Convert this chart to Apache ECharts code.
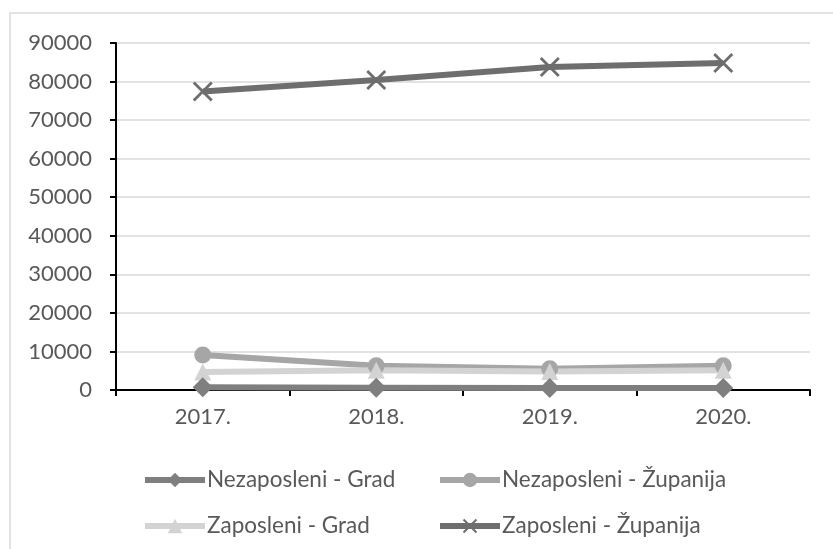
<!DOCTYPE html>
<html>
<head>
<meta charset="utf-8">
<script src="https://cdn.jsdelivr.net/npm/echarts@6/dist/echarts.min.js"></script>
<style>
  html, body { margin: 0; padding: 0; background: #fff; }
  #chart { width: 833px; height: 549px; }
</style>
</head>
<body>
<div id="chart"></div>
<script>
// kategorije i vrijednosti očitane sa slike
const years = ['2017.', '2018.', '2019.', '2020.']
const nezaposleniGrad = [700, 600, 500, 500]
const nezaposleniZupanija = [9100, 6300, 5500, 6300]
const zaposleniGrad = [4700, 5100, 4800, 5100]
const zaposleniZupanija = [77400, 80400, 83800, 84800]

const fontFamily = 'Lato, "Open Sans", sans-serif'
const textColor = '#595959'

// oznaka "X" kao popunjeni oblik
const crossPath = 'path://M0,1 L1,0 L5,4 L9,0 L10,1 L6,5 L10,9 L9,10 L5,6 L1,10 L0,9 L4,5 Z'

const makeSeries = (name, data, color, symbol, size) => ({
  name,
  type: 'line',
  data,
  symbol,
  symbolSize: size,
  showSymbol: true,
  lineStyle: { color, width: 6 },
  itemStyle: { color },
  emphasis: { disabled: true }
})

const legendBase = {
  orient: 'vertical',
  top: 462,
  itemWidth: 60,
  itemHeight: 18,
  itemGap: 20,
  lineStyle: { width: 6 },
  textStyle: { color: textColor, fontSize: 22.5, lineHeight: 26, fontFamily, padding: [0, 0, 0, -3] }
}

const chart = echarts.init(document.getElementById('chart'))

chart.setOption({
  animation: false,
  textStyle: { fontFamily },
  graphic: [{
    type: 'rect',
    shape: { x: 10, y: 13, width: 840, height: 560 },
    style: { fill: 'none', stroke: '#e3e3e3', lineWidth: 2 },
    silent: true
  }],
  grid: { left: 116, right: 23, top: 43, bottom: 159 },
  legend: [
    Object.assign({}, legendBase, { data: ['Nezaposleni - Grad', 'Zaposleni - Grad'], left: 137 }),
    Object.assign({}, legendBase, { data: ['Nezaposleni - Županija', 'Zaposleni - Županija'], left: 432 })
  ],
  xAxis: {
    type: 'category',
    data: years,
    boundaryGap: true,
    axisLine: { lineStyle: { color: '#000', width: 2 } },
    axisTick: { show: true, length: 6, lineStyle: { color: '#000', width: 2 } },
    axisLabel: { color: textColor, fontSize: 22, margin: 16 }
  },
  yAxis: {
    type: 'value',
    min: 0,
    max: 90000,
    interval: 10000,
    axisLine: { show: true, lineStyle: { color: '#000', width: 2 } },
    axisTick: { show: true, length: 6, lineStyle: { color: '#000', width: 2 } },
    axisLabel: { color: textColor, fontSize: 22, margin: 24, formatter: v => String(v) },
    splitLine: { lineStyle: { color: '#d9d9d9', width: 1.5 } }
  },
  series: [
    makeSeries('Nezaposleni - Županija', nezaposleniZupanija, '#a6a6a6', 'circle', 17),
    makeSeries('Zaposleni - Grad', zaposleniGrad, '#d3d3d3', 'triangle', 17),
    makeSeries('Nezaposleni - Grad', nezaposleniGrad, '#7f7f7f', 'diamond', 20),
    makeSeries('Zaposleni - Županija', zaposleniZupanija, '#6e6e6e', crossPath, 20)
  ]
})
</script>
</body>
</html>
